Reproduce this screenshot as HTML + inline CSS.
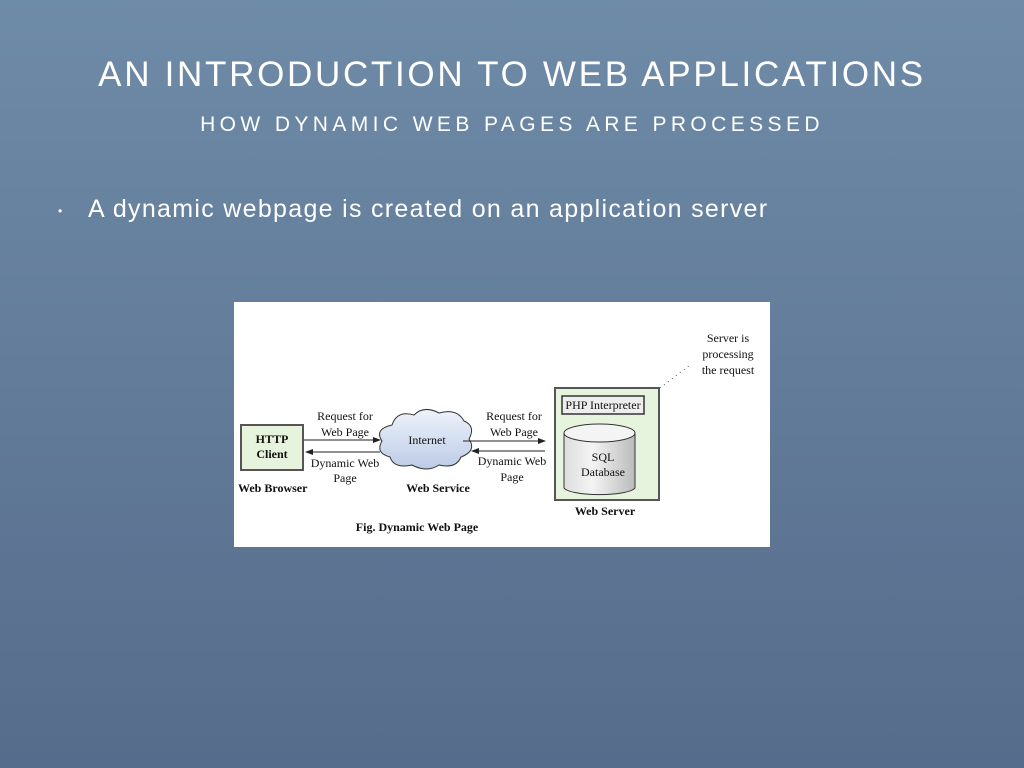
<!DOCTYPE html>
<html><head><meta charset="utf-8"><style>
body{margin:0;width:1024px;height:768px;overflow:hidden;background:linear-gradient(#6e8ba7,#566c8b);font-family:"Liberation Sans",sans-serif;position:relative;color:#fff}
.t{position:absolute;left:0;width:1024px;text-align:center;white-space:nowrap}
</style></head><body>
<div class="t" style="top:55px;font-size:35px;letter-spacing:2.7px">AN INTRODUCTION TO WEB APPLICATIONS</div>
<div class="t" style="top:113px;font-size:21px;letter-spacing:4.4px">HOW DYNAMIC WEB PAGES ARE PROCESSED</div>
<div style="position:absolute;left:58px;top:204px;font-size:12px">•</div>
<div style="position:absolute;left:88px;top:195px;font-size:25px;letter-spacing:1.3px;white-space:nowrap">A dynamic webpage is created on an application server</div>
<svg style="position:absolute;left:234px;top:302px" width="536" height="245" viewBox="234 302 536 245" font-family="Liberation Serif" font-size="12" fill="#111">
<rect x="234" y="302" width="536" height="245" fill="#fff"/>
<defs><marker id="a" markerWidth="8" markerHeight="8" refX="7" refY="4" orient="auto"><path d="M0,1L8,4L0,7z" fill="#222"/></marker>
<linearGradient id="c" x1="0" y1="0" x2="0" y2="1"><stop offset="0" stop-color="#eef3fb"/><stop offset="1" stop-color="#bccbe6"/></linearGradient>
<linearGradient id="g" x1="0" y1="0" x2="1" y2="0"><stop offset="0" stop-color="#ddd"/><stop offset=".4" stop-color="#f4f4f4"/><stop offset="1" stop-color="#bbb"/></linearGradient></defs>
<rect x="241" y="425" width="62" height="45" fill="#e6f4dd" stroke="#555" stroke-width="2"/>
<text x="272" y="443" text-anchor="middle" font-weight="bold">HTTP</text>
<text x="272" y="458" text-anchor="middle" font-weight="bold">Client</text>
<text x="238" y="492" font-weight="bold">Web Browser</text>
<line x1="304" y1="440" x2="380" y2="440" stroke="#222" marker-end="url(#a)"/>
<line x1="380" y1="452" x2="306" y2="452" stroke="#222" marker-end="url(#a)"/>
<text x="345" y="420" text-anchor="middle">Request for</text><text x="345" y="436" text-anchor="middle">Web Page</text>
<text x="345" y="467" text-anchor="middle">Dynamic Web</text><text x="345" y="482" text-anchor="middle">Page</text>
<path d="M392,425 q5,-15 22,-10 q10,-10 25,-2 q18,-5 25,8 q12,5 5,18 q8,12 -8,18 q-5,12 -22,8 q-12,8 -27,0 q-18,4 -22,-8 q-15,-4 -8,-16 q-8,-12 10,-16z" fill="url(#c)" stroke="#333"/>
<text x="427" y="444" text-anchor="middle">Internet</text>
<text x="438" y="492" text-anchor="middle" font-weight="bold">Web Service</text>
<line x1="463" y1="441" x2="545" y2="441" stroke="#222" marker-end="url(#a)"/>
<line x1="545" y1="451" x2="472" y2="451" stroke="#222" marker-end="url(#a)"/>
<text x="514" y="420" text-anchor="middle">Request for</text><text x="514" y="436" text-anchor="middle">Web Page</text>
<text x="512" y="465" text-anchor="middle">Dynamic Web</text><text x="512" y="481" text-anchor="middle">Page</text>
<rect x="555" y="388" width="104" height="112" fill="#e6f4dd" stroke="#555" stroke-width="2"/>
<rect x="562" y="396" width="82" height="18" fill="#eee" stroke="#333" stroke-width="1.5"/>
<text x="603" y="409" text-anchor="middle">PHP Interpreter</text>
<path d="M564,433 v55 a36,8 0 0 0 71,0 v-55" fill="url(#g)" stroke="#333"/>
<ellipse cx="599.5" cy="433" rx="35.5" ry="9" fill="#f4f4f4" stroke="#333"/>
<text x="603" y="461" text-anchor="middle">SQL</text><text x="603" y="476" text-anchor="middle">Database</text>
<text x="605" y="515" text-anchor="middle" font-weight="bold">Web Server</text>
<line x1="660" y1="388" x2="690" y2="365" stroke="#555" stroke-dasharray="1,4"/>
<text x="728" y="342" text-anchor="middle">Server is</text><text x="728" y="358" text-anchor="middle">processing</text><text x="728" y="374" text-anchor="middle">the request</text>
<text x="417" y="531" text-anchor="middle" font-weight="bold">Fig. Dynamic Web Page</text>
</svg>
</body></html>
